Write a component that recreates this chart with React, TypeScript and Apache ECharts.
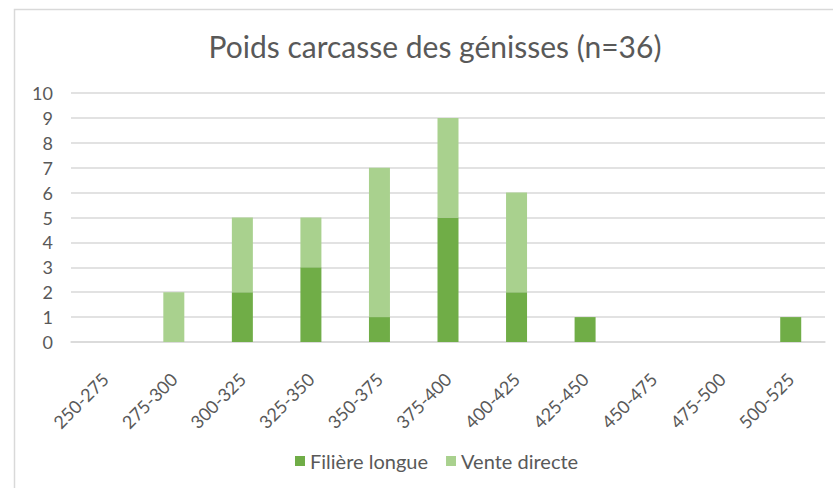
import React, { useEffect, useRef } from "react";
import * as echarts from "echarts";

const categories = ["250-275", "275-300", "300-325", "325-350", "350-375", "375-400", "400-425", "425-450", "450-475", "475-500", "500-525"];
const filiereLongue = [0, 0, 2, 3, 1, 5, 2, 1, 0, 0, 1];
const venteDirecte = [0, 2, 3, 2, 6, 4, 4, 0, 0, 0, 0];
const yTicks = [0, 10, 1];

const FONT = "Lato, 'Open Sans', sans-serif";

export default function App() {
  const ref = useRef<HTMLDivElement>(null);
  useEffect(() => {
    document.body.style.margin = "0";
    const chart = echarts.init(ref.current!, null, { renderer: "svg" });
    chart.setOption({
      animation: false,
      backgroundColor: "#ffffff",
      title: {
        text: "Poids carcasse des génisses (n=36)",
        left: 430,
        top: 26,
        textAlign: "center",
        textStyle: { fontFamily: FONT, fontSize: 30, fontWeight: "normal", color: "#595959" },
      },
      graphic: [
        {
          type: "rect",
          shape: { x: 14.5, y: 9.5, width: 1000, height: 1000 },
          style: { fill: "none", stroke: "#d9d9d9", lineWidth: 1.5 },
          silent: true,
        },
      ],
      legend: {
        left: 290,
        top: 446,
        itemWidth: 10,
        itemHeight: 10,
        itemGap: 18,
        icon: "rect",
        textStyle: { fontFamily: FONT, fontSize: 20, color: "#595959" },
        data: ["Filière longue", "Vente directe"],
      },
      grid: { left: 71, right: 8, top: 93, bottom: 146, containLabel: false },
      xAxis: {
        type: "category",
        data: categories,
        axisTick: { show: false },
        axisLine: { lineStyle: { color: "#d9d9d9", width: 1.5 } },
        axisLabel: {
          rotate: 45,
          interval: 0,
          margin: 34,
          fontFamily: FONT,
          fontSize: 18,
          color: "#595959",
        },
      },
      yAxis: {
        type: "value",
        min: yTicks[0],
        max: yTicks[1],
        interval: yTicks[2],
        axisLine: { show: false },
        axisTick: { show: false },
        splitLine: { lineStyle: { color: "#d9d9d9", width: 1.5 } },
        axisLabel: { fontFamily: FONT, fontSize: 18, color: "#595959", margin: 18 },
      },
      series: [
        {
          name: "Filière longue",
          type: "bar",
          stack: "total",
          barWidth: 21,
          data: filiereLongue,
          itemStyle: { color: "#70AD47" },
        },
        {
          name: "Vente directe",
          type: "bar",
          stack: "total",
          barWidth: 21,
          data: venteDirecte,
          itemStyle: { color: "#A9D18E" },
        },
      ],
    });
    return () => chart.dispose();
  }, []);
  return <div ref={ref} style={{ width: 833, height: 488 }} />;
}
